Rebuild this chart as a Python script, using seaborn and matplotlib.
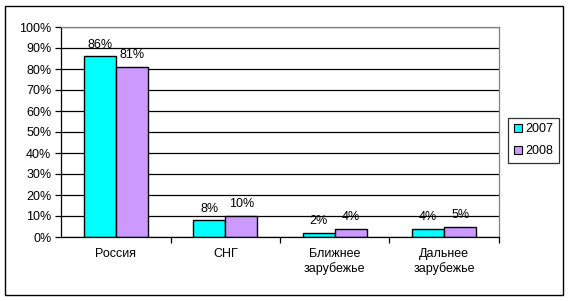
import matplotlib
matplotlib.use("Agg")
import matplotlib.pyplot as plt
import seaborn as sns
import pandas as pd
from matplotlib.patches import Rectangle
from matplotlib.ticker import FixedLocator

categories = ["Россия", "СНГ", "Ближнее\nзарубежье", "Дальнее\nзарубежье"]
years = ["2007", "2008"]
values_2007 = [86, 8, 2, 4]
values_2008 = [81, 10, 4, 5]
yticks = list(range(0, 101, 10))

sns.set_theme(style="white")
plt.rcParams['font.family'] = ['Liberation Sans', 'DejaVu Sans']
plt.rcParams['text.color'] = 'black'
plt.rcParams['xtick.color'] = 'black'
plt.rcParams['ytick.color'] = 'black'

df = pd.DataFrame({
    "cat": categories * 2,
    "year": [years[0]] * 4 + [years[1]] * 4,
    "val": values_2007 + values_2008,
})

fig = plt.figure(figsize=(5.70, 3.01), dpi=100)
ax = fig.add_axes([61/570, 64/301, 438/570, 210/301])

sns.barplot(data=df, x="cat", y="val", hue="year", palette=["#00FFFF", "#CC99FF"],
            saturation=1, edgecolor="black", linewidth=1.0, width=0.585, ax=ax, legend=True)

ax.set_ylim(0, 100)
ax.set_xlim(-0.5, 3.5)
ax.set_yticks(yticks)
ax.set_yticklabels([f"{t}%" for t in yticks], fontsize=9, color="black")
ax.yaxis.grid(True, color="black", linewidth=0.9)
ax.set_axisbelow(True)
ax.set_xlabel("")
ax.set_ylabel("")
ax.tick_params(axis="x", length=0, labelsize=9, pad=8, labelcolor="black")
ax.tick_params(axis="y", length=4, width=0.9, color="black", direction="out", left=True, pad=3)
ax.xaxis.set_minor_locator(FixedLocator([0.5, 1.5, 2.5, 3.5]))
ax.tick_params(axis="x", which="minor", length=4, width=0.9, color="black", direction="out", bottom=True)

for s in ["top", "right"]:
    ax.spines[s].set_color("#808080")
    ax.spines[s].set_linewidth(0.9)
for s in ["left", "bottom"]:
    ax.spines[s].set_color("black")
    ax.spines[s].set_linewidth(0.9)

for container in ax.containers:
    ax.bar_label(container, labels=[f"{int(v)}%" for v in container.datavalues],
                 fontsize=9, padding=4, color="black")

leg = ax.legend(loc="center left", bbox_to_anchor=(1.015, 0.46), frameon=True,
                fontsize=9, handlelength=0.7, handleheight=0.7, handletextpad=0.25,
                borderpad=0.45, labelspacing=0.8, borderaxespad=0.2,
                fancybox=False, edgecolor="black")
leg.get_frame().set_linewidth(0.9)
for t in leg.get_texts():
    t.set_color("black")
for h in leg.legend_handles:
    h.set_edgecolor("black")
    h.set_linewidth(0.8)

fig.patches.append(Rectangle((5/570, 6/301), 558/570, 289/301, transform=fig.transFigure,
                             fill=False, edgecolor="black", linewidth=1.0))

fig.savefig("out.png", dpi=100)
